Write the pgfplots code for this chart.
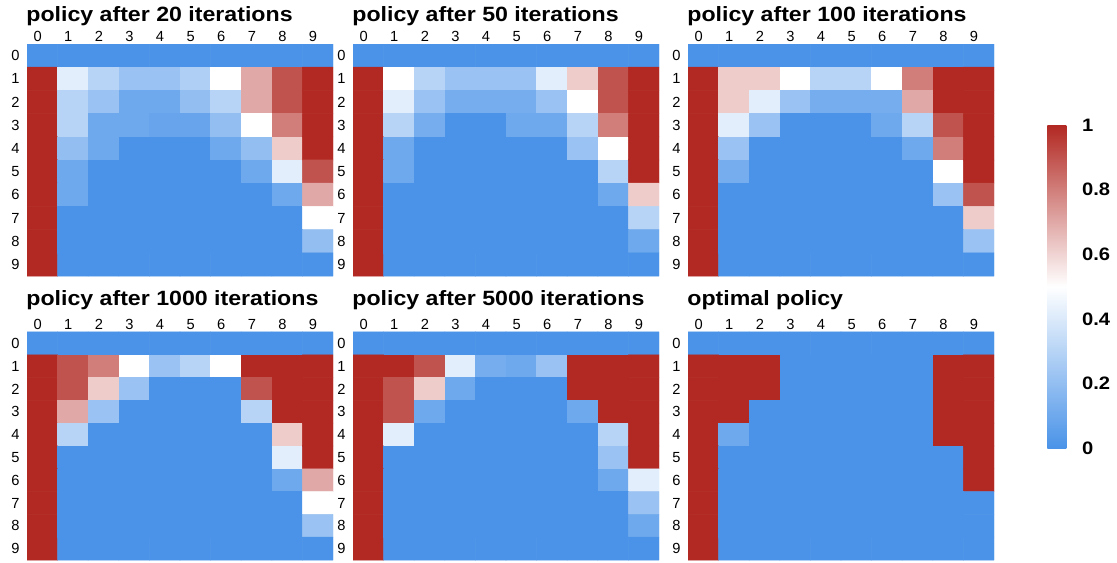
\documentclass[border=0pt]{standalone}
\usepackage{pgfplots}
\pgfplotsset{compat=1.18}
\usepackage{fontspec}
\setmainfont{Liberation Sans}
\newfontfamily\widebold{Liberation Sans}[FakeStretch=1.12, UprightFont=* Bold]

\pgfplotsset{
  colormap={policy}{rgb255=(74,147,232) rgb255=(255,255,255) rgb255=(178,40,34)},
  heat/.style={
    anchor=south west,
    scale only axis, width=229.5pt,
    xmin=-0.5, xmax=9.5, ymin=-0.5, ymax=9.5,
    y dir=reverse, enlargelimits=false,
    xtick={0,...,9}, ytick={0,...,9},
    xticklabel pos=right,
    axis line style={draw=none}, major tick length=0pt,
    point meta min=0, point meta max=1,
    colormap name=policy,
    /pgf/number format/assume math mode=true,
    ticklabel style={font=\fontsize{11}{13}\selectfont},
    xticklabel style={yshift=-2pt, xshift=-3.5pt},
    yticklabel style={xshift=-2pt},
    title style={at={(0,1)}, anchor=base west, xshift=-4pt,
      font=\widebold\fontsize{15.5}{18}\selectfont},
  },
  toprow/.style={heat, height=174pt, title style={yshift=11.25pt}},
  botrow/.style={heat, height=171pt, title style={yshift=13.5pt}},
  policycells/.style={matrix plot*, mesh/cols=10, point meta=explicit},
}

\begin{document}
\begin{tikzpicture}
\path[use as bounding box] (0,0) rectangle (837.75pt,421.5pt);

% ---------- after 20 iterations ----------
\begin{axis}[toprow, at={(20.25pt,214.5pt)}, title={policy after 20 iterations}]
\addplot[policycells] coordinates {
(0,0)[0] (1,0)[0] (2,0)[0] (3,0)[0] (4,0)[0] (5,0)[0] (6,0)[0] (7,0)[0] (8,0)[0] (9,0)[0]
(0,1)[1] (1,1)[0.42] (2,1)[0.3] (3,1)[0.22] (4,1)[0.22] (5,1)[0.28] (6,1)[0.5] (7,1)[0.7] (8,1)[0.9] (9,1)[1]
(0,2)[1] (1,2)[0.3] (2,2)[0.22] (3,2)[0.1] (4,2)[0.1] (5,2)[0.2] (6,2)[0.3] (7,2)[0.7] (8,2)[0.9] (9,2)[1]
(0,3)[1] (1,3)[0.3] (2,3)[0.1] (3,3)[0.1] (4,3)[0.08] (5,3)[0.08] (6,3)[0.2] (7,3)[0.5] (8,3)[0.8] (9,3)[1]
(0,4)[1] (1,4)[0.2] (2,4)[0.1] (3,4)[0] (4,4)[0] (5,4)[0] (6,4)[0.1] (7,4)[0.2] (8,4)[0.62] (9,4)[1]
(0,5)[1] (1,5)[0.1] (2,5)[0] (3,5)[0] (4,5)[0] (5,5)[0] (6,5)[0] (7,5)[0.1] (8,5)[0.42] (9,5)[0.9]
(0,6)[1] (1,6)[0.1] (2,6)[0] (3,6)[0] (4,6)[0] (5,6)[0] (6,6)[0] (7,6)[0] (8,6)[0.1] (9,6)[0.7]
(0,7)[1] (1,7)[0] (2,7)[0] (3,7)[0] (4,7)[0] (5,7)[0] (6,7)[0] (7,7)[0] (8,7)[0] (9,7)[0.5]
(0,8)[1] (1,8)[0] (2,8)[0] (3,8)[0] (4,8)[0] (5,8)[0] (6,8)[0] (7,8)[0] (8,8)[0] (9,8)[0.2]
(0,9)[1] (1,9)[0] (2,9)[0] (3,9)[0] (4,9)[0] (5,9)[0] (6,9)[0] (7,9)[0] (8,9)[0] (9,9)[0]
};
\end{axis}

% ---------- after 50 iterations ----------
\begin{axis}[toprow, at={(264.75pt,214.5pt)}, title={policy after 50 iterations}]
\addplot[policycells] coordinates {
(0,0)[0] (1,0)[0] (2,0)[0] (3,0)[0] (4,0)[0] (5,0)[0] (6,0)[0] (7,0)[0] (8,0)[0] (9,0)[0]
(0,1)[1] (1,1)[0.5] (2,1)[0.3] (3,1)[0.22] (4,1)[0.22] (5,1)[0.22] (6,1)[0.42] (7,1)[0.62] (8,1)[0.9] (9,1)[1]
(0,2)[1] (1,2)[0.42] (2,2)[0.22] (3,2)[0.12] (4,2)[0.12] (5,2)[0.12] (6,2)[0.22] (7,2)[0.5] (8,2)[0.9] (9,2)[1]
(0,3)[1] (1,3)[0.3] (2,3)[0.12] (3,3)[0] (4,3)[0] (5,3)[0.1] (6,3)[0.1] (7,3)[0.3] (8,3)[0.8] (9,3)[1]
(0,4)[1] (1,4)[0.1] (2,4)[0] (3,4)[0] (4,4)[0] (5,4)[0] (6,4)[0] (7,4)[0.22] (8,4)[0.5] (9,4)[1]
(0,5)[1] (1,5)[0.1] (2,5)[0] (3,5)[0] (4,5)[0] (5,5)[0] (6,5)[0] (7,5)[0] (8,5)[0.3] (9,5)[1]
(0,6)[1] (1,6)[0] (2,6)[0] (3,6)[0] (4,6)[0] (5,6)[0] (6,6)[0] (7,6)[0] (8,6)[0.1] (9,6)[0.62]
(0,7)[1] (1,7)[0] (2,7)[0] (3,7)[0] (4,7)[0] (5,7)[0] (6,7)[0] (7,7)[0] (8,7)[0] (9,7)[0.3]
(0,8)[1] (1,8)[0] (2,8)[0] (3,8)[0] (4,8)[0] (5,8)[0] (6,8)[0] (7,8)[0] (8,8)[0] (9,8)[0.1]
(0,9)[1] (1,9)[0] (2,9)[0] (3,9)[0] (4,9)[0] (5,9)[0] (6,9)[0] (7,9)[0] (8,9)[0] (9,9)[0]
};
\end{axis}

% ---------- after 100 iterations ----------
\begin{axis}[toprow, at={(516pt,214.5pt)}, title={policy after 100 iterations}]
\addplot[policycells] coordinates {
(0,0)[0] (1,0)[0] (2,0)[0] (3,0)[0] (4,0)[0] (5,0)[0] (6,0)[0] (7,0)[0] (8,0)[0] (9,0)[0]
(0,1)[1] (1,1)[0.62] (2,1)[0.62] (3,1)[0.5] (4,1)[0.3] (5,1)[0.3] (6,1)[0.5] (7,1)[0.8] (8,1)[1] (9,1)[1]
(0,2)[1] (1,2)[0.62] (2,2)[0.42] (3,2)[0.22] (4,2)[0.12] (5,2)[0.12] (6,2)[0.12] (7,2)[0.7] (8,2)[1] (9,2)[1]
(0,3)[1] (1,3)[0.42] (2,3)[0.22] (3,3)[0] (4,3)[0] (5,3)[0] (6,3)[0.1] (7,3)[0.3] (8,3)[0.9] (9,3)[1]
(0,4)[1] (1,4)[0.22] (2,4)[0] (3,4)[0] (4,4)[0] (5,4)[0] (6,4)[0] (7,4)[0.1] (8,4)[0.8] (9,4)[1]
(0,5)[1] (1,5)[0.12] (2,5)[0] (3,5)[0] (4,5)[0] (5,5)[0] (6,5)[0] (7,5)[0] (8,5)[0.5] (9,5)[1]
(0,6)[1] (1,6)[0] (2,6)[0] (3,6)[0] (4,6)[0] (5,6)[0] (6,6)[0] (7,6)[0] (8,6)[0.22] (9,6)[0.9]
(0,7)[1] (1,7)[0] (2,7)[0] (3,7)[0] (4,7)[0] (5,7)[0] (6,7)[0] (7,7)[0] (8,7)[0] (9,7)[0.62]
(0,8)[1] (1,8)[0] (2,8)[0] (3,8)[0] (4,8)[0] (5,8)[0] (6,8)[0] (7,8)[0] (8,8)[0] (9,8)[0.22]
(0,9)[1] (1,9)[0] (2,9)[0] (3,9)[0] (4,9)[0] (5,9)[0] (6,9)[0] (7,9)[0] (8,9)[0] (9,9)[0]
};
\end{axis}

% ---------- after 1000 iterations ----------
\begin{axis}[botrow, at={(20.25pt,1.5pt)}, title={policy after 1000 iterations}]
\addplot[policycells] coordinates {
(0,0)[0] (1,0)[0] (2,0)[0] (3,0)[0] (4,0)[0] (5,0)[0] (6,0)[0] (7,0)[0] (8,0)[0] (9,0)[0]
(0,1)[1] (1,1)[0.9] (2,1)[0.8] (3,1)[0.5] (4,1)[0.22] (5,1)[0.3] (6,1)[0.5] (7,1)[1] (8,1)[1] (9,1)[1]
(0,2)[1] (1,2)[0.9] (2,2)[0.62] (3,2)[0.22] (4,2)[0] (5,2)[0] (6,2)[0] (7,2)[0.9] (8,2)[1] (9,2)[1]
(0,3)[1] (1,3)[0.7] (2,3)[0.22] (3,3)[0] (4,3)[0] (5,3)[0] (6,3)[0] (7,3)[0.3] (8,3)[1] (9,3)[1]
(0,4)[1] (1,4)[0.3] (2,4)[0] (3,4)[0] (4,4)[0] (5,4)[0] (6,4)[0] (7,4)[0] (8,4)[0.62] (9,4)[1]
(0,5)[1] (1,5)[0] (2,5)[0] (3,5)[0] (4,5)[0] (5,5)[0] (6,5)[0] (7,5)[0] (8,5)[0.42] (9,5)[1]
(0,6)[1] (1,6)[0] (2,6)[0] (3,6)[0] (4,6)[0] (5,6)[0] (6,6)[0] (7,6)[0] (8,6)[0.1] (9,6)[0.7]
(0,7)[1] (1,7)[0] (2,7)[0] (3,7)[0] (4,7)[0] (5,7)[0] (6,7)[0] (7,7)[0] (8,7)[0] (9,7)[0.5]
(0,8)[1] (1,8)[0] (2,8)[0] (3,8)[0] (4,8)[0] (5,8)[0] (6,8)[0] (7,8)[0] (8,8)[0] (9,8)[0.22]
(0,9)[1] (1,9)[0] (2,9)[0] (3,9)[0] (4,9)[0] (5,9)[0] (6,9)[0] (7,9)[0] (8,9)[0] (9,9)[0]
};
\end{axis}

% ---------- after 5000 iterations ----------
\begin{axis}[botrow, at={(264.75pt,1.5pt)}, title={policy after 5000 iterations}]
\addplot[policycells] coordinates {
(0,0)[0] (1,0)[0] (2,0)[0] (3,0)[0] (4,0)[0] (5,0)[0] (6,0)[0] (7,0)[0] (8,0)[0] (9,0)[0]
(0,1)[1] (1,1)[1] (2,1)[0.9] (3,1)[0.42] (4,1)[0.12] (5,1)[0.1] (6,1)[0.22] (7,1)[1] (8,1)[1] (9,1)[1]
(0,2)[1] (1,2)[0.9] (2,2)[0.62] (3,2)[0.1] (4,2)[0] (5,2)[0] (6,2)[0] (7,2)[1] (8,2)[1] (9,2)[1]
(0,3)[1] (1,3)[0.9] (2,3)[0.1] (3,3)[0] (4,3)[0] (5,3)[0] (6,3)[0] (7,3)[0.1] (8,3)[1] (9,3)[1]
(0,4)[1] (1,4)[0.42] (2,4)[0] (3,4)[0] (4,4)[0] (5,4)[0] (6,4)[0] (7,4)[0] (8,4)[0.3] (9,4)[1]
(0,5)[1] (1,5)[0] (2,5)[0] (3,5)[0] (4,5)[0] (5,5)[0] (6,5)[0] (7,5)[0] (8,5)[0.22] (9,5)[1]
(0,6)[1] (1,6)[0] (2,6)[0] (3,6)[0] (4,6)[0] (5,6)[0] (6,6)[0] (7,6)[0] (8,6)[0.1] (9,6)[0.42]
(0,7)[1] (1,7)[0] (2,7)[0] (3,7)[0] (4,7)[0] (5,7)[0] (6,7)[0] (7,7)[0] (8,7)[0] (9,7)[0.22]
(0,8)[1] (1,8)[0] (2,8)[0] (3,8)[0] (4,8)[0] (5,8)[0] (6,8)[0] (7,8)[0] (8,8)[0] (9,8)[0.1]
(0,9)[1] (1,9)[0] (2,9)[0] (3,9)[0] (4,9)[0] (5,9)[0] (6,9)[0] (7,9)[0] (8,9)[0] (9,9)[0]
};
\end{axis}

% ---------- optimal policy, with the shared colour scale ----------
\begin{axis}[botrow, at={(516pt,1.5pt)}, title={optimal policy},
  colorbar,
  colorbar style={
    y dir=normal,
    at={(parent axis.south east)}, anchor=south west,
    xshift=31.5pt, yshift=84pt,
    width=16.5pt, height=242.25pt,
    axis line style={draw=none}, major tick length=0pt,
    ytick={0,0.2,0.4,0.6,0.8,1},
    yticklabel pos=right,
    /pgf/number format/assume math mode=true,
    yticklabel style={font=\widebold\fontsize{13.5}{15}\selectfont, xshift=6pt},
  }]
\addplot[policycells] coordinates {
(0,0)[0] (1,0)[0] (2,0)[0] (3,0)[0] (4,0)[0] (5,0)[0] (6,0)[0] (7,0)[0] (8,0)[0] (9,0)[0]
(0,1)[1] (1,1)[1] (2,1)[1] (3,1)[0] (4,1)[0] (5,1)[0] (6,1)[0] (7,1)[0] (8,1)[1] (9,1)[1]
(0,2)[1] (1,2)[1] (2,2)[1] (3,2)[0] (4,2)[0] (5,2)[0] (6,2)[0] (7,2)[0] (8,2)[1] (9,2)[1]
(0,3)[1] (1,3)[1] (2,3)[0] (3,3)[0] (4,3)[0] (5,3)[0] (6,3)[0] (7,3)[0] (8,3)[1] (9,3)[1]
(0,4)[1] (1,4)[0.1] (2,4)[0] (3,4)[0] (4,4)[0] (5,4)[0] (6,4)[0] (7,4)[0] (8,4)[1] (9,4)[1]
(0,5)[1] (1,5)[0] (2,5)[0] (3,5)[0] (4,5)[0] (5,5)[0] (6,5)[0] (7,5)[0] (8,5)[0] (9,5)[1]
(0,6)[1] (1,6)[0] (2,6)[0] (3,6)[0] (4,6)[0] (5,6)[0] (6,6)[0] (7,6)[0] (8,6)[0] (9,6)[1]
(0,7)[1] (1,7)[0] (2,7)[0] (3,7)[0] (4,7)[0] (5,7)[0] (6,7)[0] (7,7)[0] (8,7)[0] (9,7)[0]
(0,8)[1] (1,8)[0] (2,8)[0] (3,8)[0] (4,8)[0] (5,8)[0] (6,8)[0] (7,8)[0] (8,8)[0] (9,8)[0]
(0,9)[1] (1,9)[0] (2,9)[0] (3,9)[0] (4,9)[0] (5,9)[0] (6,9)[0] (7,9)[0] (8,9)[0] (9,9)[0]
};
\end{axis}
\end{tikzpicture}
\end{document}
